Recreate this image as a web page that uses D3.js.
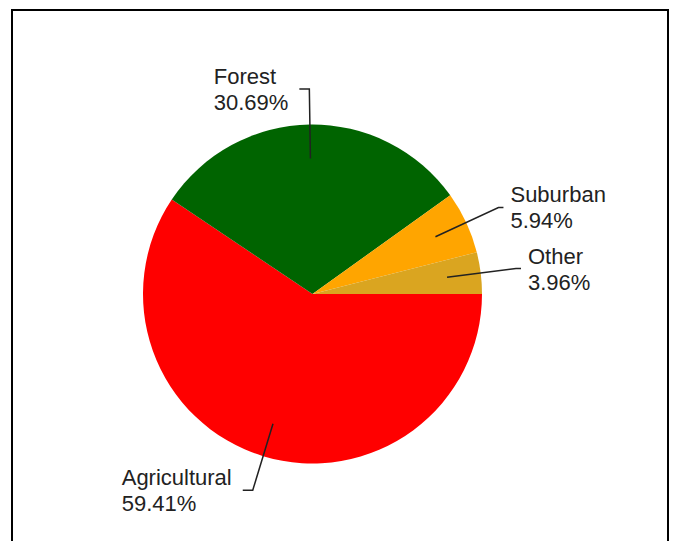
<!DOCTYPE html>
<html>
<head>
<meta charset="utf-8">
<script src="https://cdn.jsdelivr.net/npm/d3@7"></script>
<style>
  body { margin: 0; background: #fff; }
  svg { display: block; }
  .lbl { font-family: "Liberation Sans", Arial, sans-serif; font-size: 22px; fill: #222; }
</style>
</head>
<body>
<svg id="chart"></svg>
<script>
const categories = ['Agricultural', 'Forest', 'Suburban', 'Other'];
const values = [59.41, 30.69, 5.94, 3.96];
const colors = ['#ff0000', '#006400', '#ffa500', '#daa520'];

const width = 675;
const height = 541;
const cx = 312.5;
const cy = 294;
const radius = 169.5;

const svg = d3.select('#chart')
  .attr('width', width)
  .attr('height', height);

// frame (bottom edge runs off the picture)
svg.append('rect')
  .attr('x', 12)
  .attr('y', 10)
  .attr('width', 656)
  .attr('height', 600)
  .attr('fill', 'none')
  .attr('stroke', '#000')
  .attr('stroke-width', 2);

const data = categories.map(function(c, i) {
  return { name: c, value: values[i], color: colors[i] };
});

const pie = d3.pie().sort(null)
  .startAngle(Math.PI / 2)
  .endAngle(Math.PI / 2 + 2 * Math.PI)
  .value(function(d) { return d.value; });

const arc = d3.arc().innerRadius(0).outerRadius(radius);
const innerArc = d3.arc().innerRadius(radius * 0.8).outerRadius(radius * 0.8);
const outerArc = d3.arc().innerRadius(radius * 1.21).outerRadius(radius * 1.21);

const g = svg.append('g').attr('transform', 'translate(' + cx + ',' + cy + ')');

g.append('g').selectAll('path')
  .data(pie(data))
  .enter()
  .append('path')
  .attr('d', arc)
  .attr('fill', function(d) { return d.data.color; });

function midAngle(d) {
  return d.startAngle + (d.endAngle - d.startAngle) / 2;
}

const lines = g.append('g');
const labels = g.append('g');

pie(data).forEach(function(d) {
  const a = midAngle(d) % (2 * Math.PI);
  const right = a < Math.PI;
  const p0 = innerArc.centroid(d);
  const p1 = outerArc.centroid(d);
  const tick = right ? 5 : 10;
  const p2 = [p1[0] + (right ? tick : -tick), p1[1]];

  lines.append('polyline')
    .attr('points', [p0, p1, p2].join(' '))
    .attr('fill', 'none')
    .attr('stroke', '#222')
    .attr('stroke-width', 1.5);

  const t = labels.append('text').attr('class', 'lbl');
  t.append('tspan').attr('x', 0).attr('y', -5).text(d.data.name);
  t.append('tspan').attr('x', 0).attr('y', 21).text(d.data.value.toFixed(2) + '%');

  const w = t.node().getBBox().width;
  const x = right ? p2[0] + 7 : p2[0] - 11 - w;
  t.attr('transform', 'translate(' + x + ',' + p1[1] + ')');
});
</script>
</body>
</html>
